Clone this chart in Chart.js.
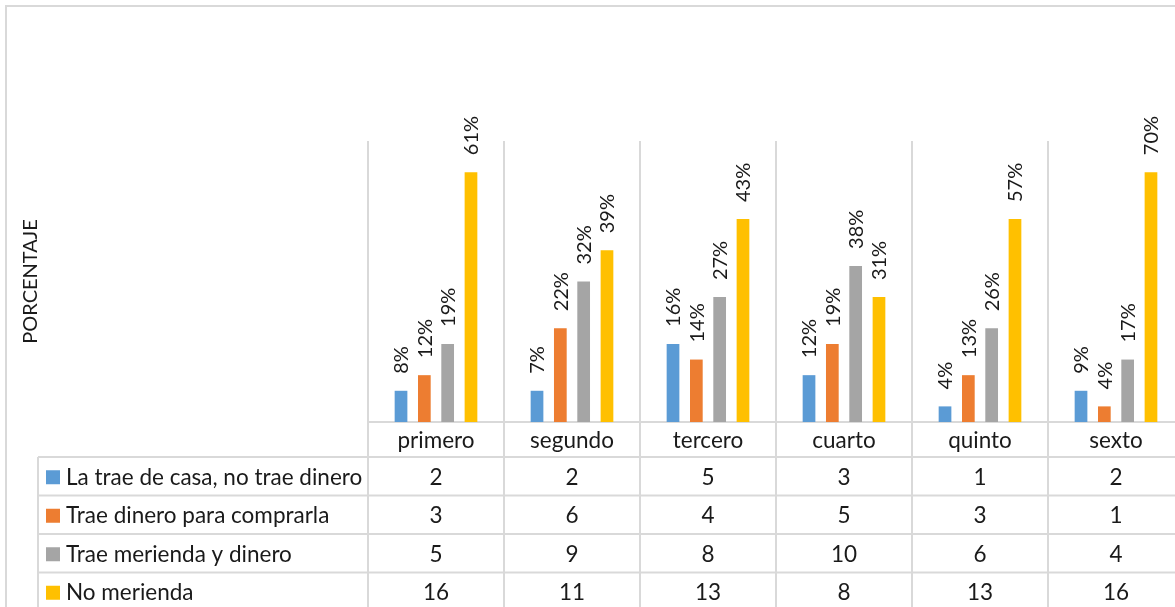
<!DOCTYPE html>
<html lang="es">
<head>
<meta charset="utf-8">
<title>Merienda por grado</title>
<script src="https://cdn.jsdelivr.net/npm/chart.js@4.4.1/dist/chart.umd.min.js"></script>
<style>
  html, body { margin: 0; padding: 0; background: #ffffff; overflow: hidden; }
  #wrap { position: absolute; left: 0; top: 0; width: 1200px; height: 620px; }
</style>
</head>
<body>
<div id="wrap"><canvas id="chart" width="1200" height="620"></canvas></div>
<script>
// Grados escolares
const grados = ['primero', 'segundo', 'tercero', 'cuarto', 'quinto', 'sexto'];

// Nombres de las series
const serieNombres = [
  'La trae de casa, no trae dinero',
  'Trae dinero para comprarla',
  'Trae merienda y dinero',
  'No merienda'
];

// Número de alumnos por grado (tabla de datos)
const traeDeCasa     = [2, 2, 5, 3, 1, 2];
const traeDinero     = [3, 6, 4, 5, 3, 1];
const meriendaDinero = [5, 9, 8, 10, 6, 4];
const noMerienda     = [16, 11, 13, 8, 13, 16];

// Porcentajes mostrados sobre cada barra
const pctTraeDeCasa     = [8, 7, 16, 12, 4, 9];
const pctTraeDinero     = [12, 22, 14, 19, 13, 4];
const pctMeriendaDinero = [19, 32, 27, 38, 26, 17];
const pctNoMerienda     = [61, 39, 43, 31, 57, 70];

const colores = ['#5B9BD5', '#ED7D31', '#A5A5A5', '#FFC000'];
const FONT = 'Lato, "Open Sans", sans-serif';
const TEXT = '#1a1a1a';
const LINE = '#d9d9d9';

const valores = [traeDeCasa, traeDinero, meriendaDinero, noMerienda];
const porcentajes = [pctTraeDeCasa, pctTraeDinero, pctMeriendaDinero, pctNoMerienda];

// Filas de la tabla inferior (bordes horizontales)
const filaHeaderTop = 422;
const filasY = [457, 495.5, 534, 572.5, 611];
const tablaIzq = 38;

const tablaPlugin = {
  id: 'tablaDatos',
  beforeDatasetsDraw(chart) {
    const ctx = chart.ctx;
    const xs = chart.scales.x;
    const area = chart.chartArea;
    const colW = xs.getPixelForValue(1) - xs.getPixelForValue(0);
    const bordes = grados.map((g, i) => xs.getPixelForValue(i) - colW / 2);
    bordes.push(xs.getPixelForValue(grados.length - 1) + colW / 2);
    const H = chart.height;

    ctx.save();
    ctx.strokeStyle = LINE;
    ctx.lineWidth = 2;

    // Marco exterior
    ctx.beginPath();
    ctx.moveTo(6, H + 10);
    ctx.lineTo(6, 6);
    ctx.lineTo(chart.width + 10, 6);
    ctx.stroke();

    // Separadores verticales entre grados
    ctx.beginPath();
    bordes.forEach(x => {
      ctx.moveTo(x, area.top);
      ctx.lineTo(x, H);
    });
    // Borde izquierdo de la tabla
    ctx.moveTo(tablaIzq, filasY[0]);
    ctx.lineTo(tablaIzq, H);
    // Línea base y encabezado
    ctx.moveTo(bordes[0], area.bottom);
    ctx.lineTo(chart.width, area.bottom);
    filasY.forEach(y => {
      ctx.moveTo(tablaIzq, y);
      ctx.lineTo(chart.width, y);
    });
    ctx.stroke();

    // Texto de encabezado (grados)
    ctx.fillStyle = TEXT;
    ctx.font = '22.5px ' + FONT;
    ctx.textAlign = 'center';
    ctx.textBaseline = 'middle';
    grados.forEach((g, i) => {
      ctx.fillText(g, xs.getPixelForValue(i), (filaHeaderTop + filasY[0]) / 2 + 1);
    });

    // Filas con valores y leyenda
    valores.forEach((serie, s) => {
      const yc = (filasY[s] + filasY[s + 1]) / 2 + 1;
      serie.forEach((v, i) => {
        ctx.textAlign = 'center';
        ctx.fillText(String(v), xs.getPixelForValue(i), yc);
      });
      ctx.fillStyle = colores[s];
      ctx.fillRect(46, yc - 7, 14, 14);
      ctx.fillStyle = TEXT;
      ctx.textAlign = 'left';
      ctx.fillText(serieNombres[s], 66, yc);
    });

    // Título del eje vertical
    ctx.save();
    ctx.font = '20px ' + FONT;
    ctx.translate(31, (area.top + area.bottom) / 2);
    ctx.rotate(-Math.PI / 2);
    ctx.textAlign = 'center';
    ctx.textBaseline = 'middle';
    ctx.fillText('PORCENTAJE', 0, 0);
    ctx.restore();

    ctx.restore();
  },
  afterDatasetsDraw(chart) {
    // Etiquetas de porcentaje giradas sobre cada barra
    const ctx = chart.ctx;
    ctx.save();
    ctx.fillStyle = TEXT;
    ctx.font = '20px ' + FONT;
    chart.data.datasets.forEach((ds, s) => {
      const meta = chart.getDatasetMeta(s);
      meta.data.forEach((bar, i) => {
        ctx.save();
        ctx.translate(bar.x, bar.y - 17);
        ctx.rotate(-Math.PI / 2);
        ctx.textAlign = 'left';
        ctx.textBaseline = 'middle';
        ctx.fillText(porcentajes[s][i] + '%', 0, 1);
        ctx.restore();
      });
    });
    ctx.restore();
  }
};

new Chart(document.getElementById('chart'), {
  type: 'bar',
  data: {
    labels: grados,
    datasets: valores.map((serie, s) => ({
      label: serieNombres[s],
      data: serie,
      backgroundColor: colores[s],
      borderWidth: 0,
      categoryPercentage: 0.686,
      barPercentage: 0.545
    }))
  },
  options: {
    responsive: false,
    animation: false,
    layout: { padding: { left: 368, right: 16, top: 141, bottom: 198 } },
    plugins: { legend: { display: false }, tooltip: { enabled: false } },
    scales: {
      x: { display: false, offset: true },
      y: { display: false, min: 0, max: 18 }
    }
  },
  plugins: [tablaPlugin]
});
</script>
</body>
</html>
